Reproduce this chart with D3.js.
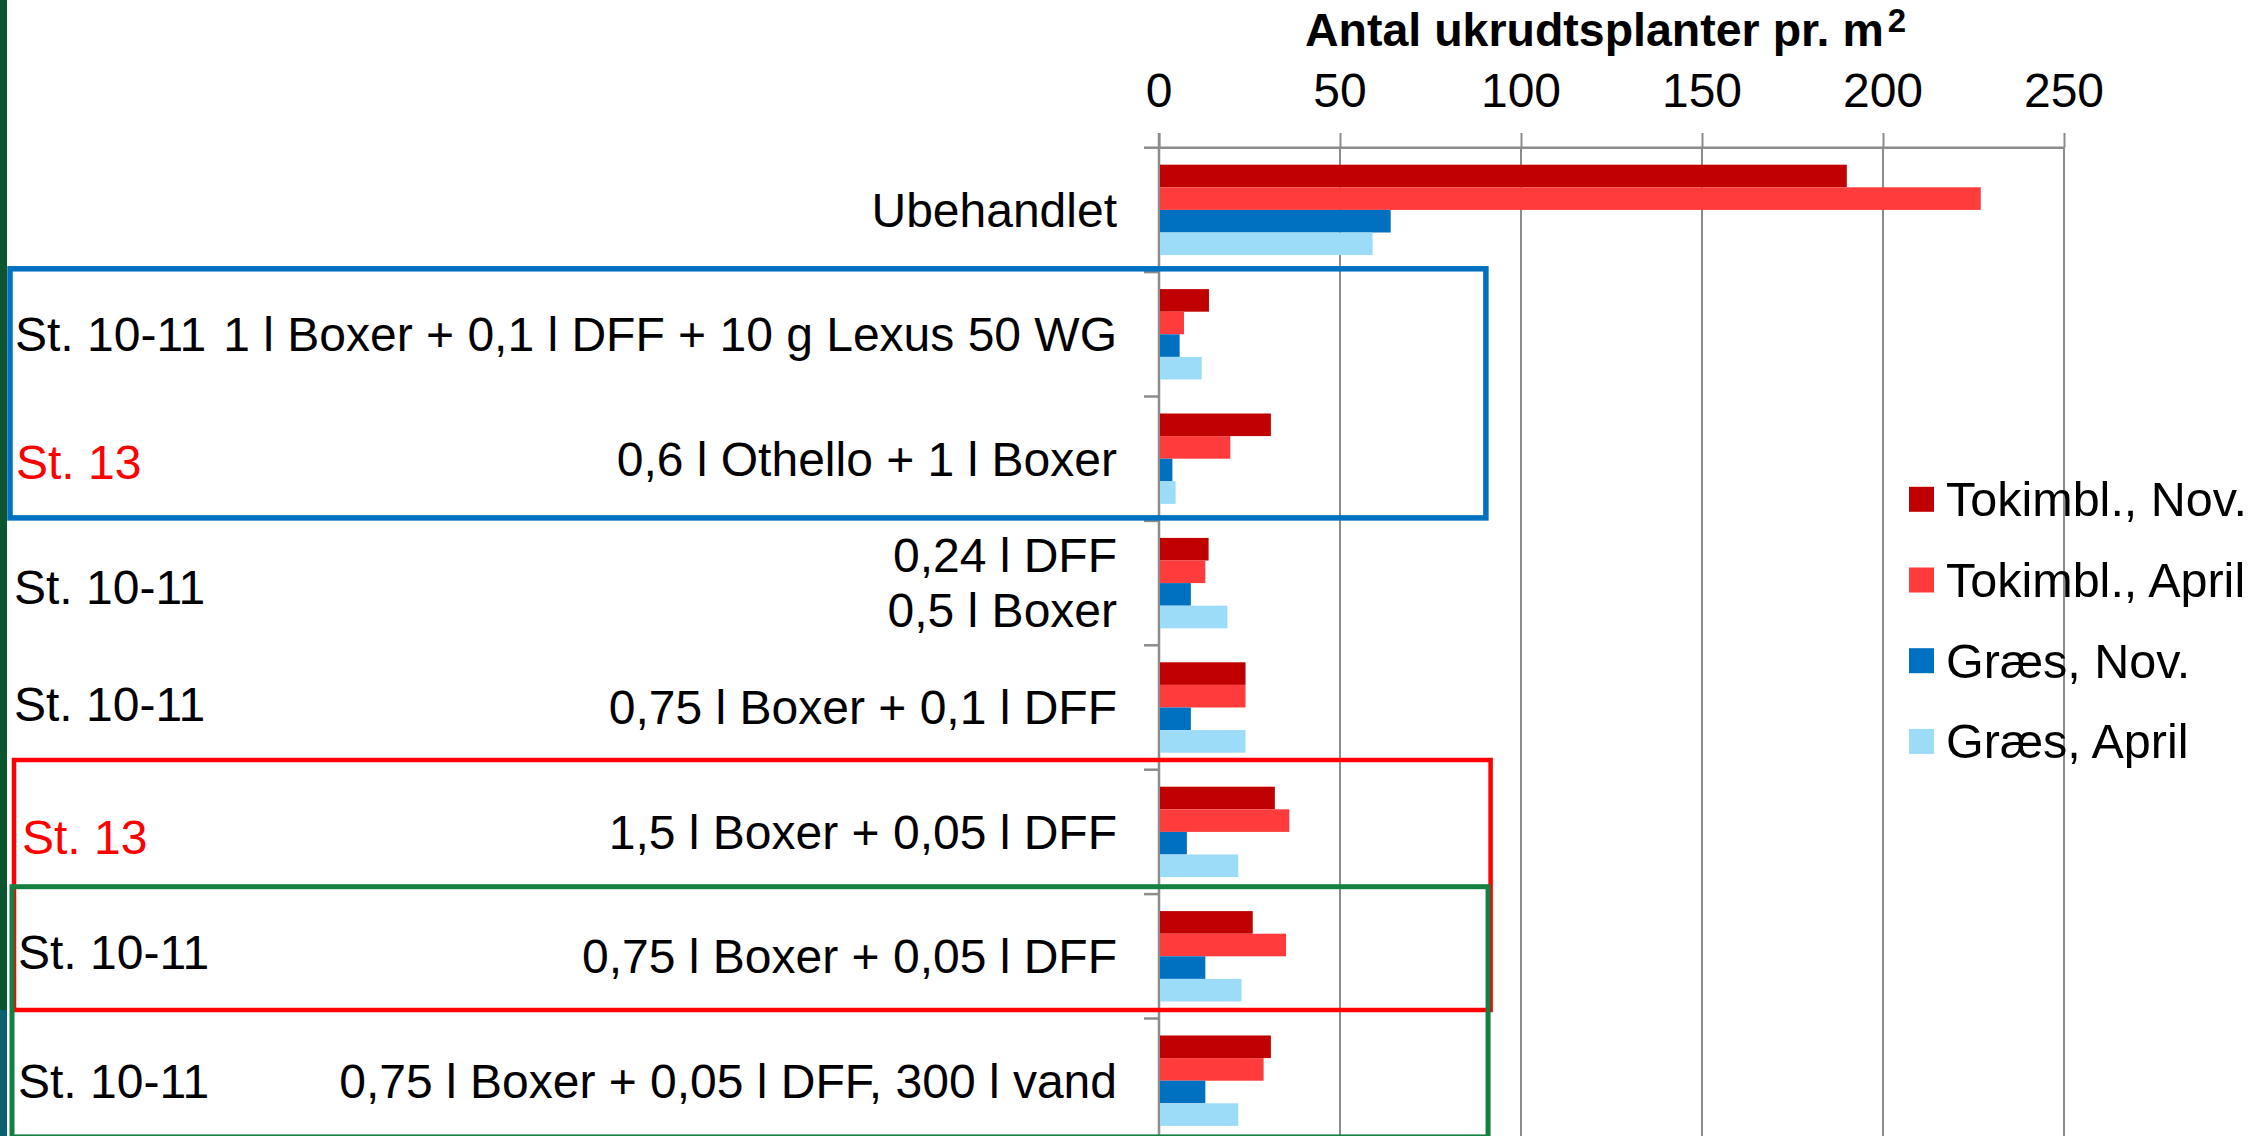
<!DOCTYPE html>
<html>
<head>
<meta charset="utf-8">
<script src="https://cdn.jsdelivr.net/npm/d3@7"></script>
<style>
  body { margin: 0; background: #fff; }
  svg text { font-family: "Liberation Sans", Arial, sans-serif; }
</style>
</head>
<body>
<div id="chart"></div>
<script>
/** chart data */
let categories = [
  'Ubehandlet',
  '1 l Boxer + 0,1 l DFF + 10 g Lexus 50 WG',
  '0,6 l Othello + 1 l Boxer',
  '0,24 l DFF|0,5 l Boxer',
  '0,75 l Boxer + 0,1 l DFF',
  '1,5 l Boxer + 0,05 l DFF',
  '0,75 l Boxer + 0,05 l DFF',
  '0,75 l Boxer + 0,05 l DFF, 300 l vand'
];
let stages = ['', 'St. 10-11', 'St. 13', 'St. 10-11', 'St. 10-11', 'St. 13', 'St. 10-11', 'St. 10-11'];
let seriesNames = ['Tokimbl., Nov.', 'Tokimbl., April', 'Græs, Nov.', 'Græs, April'];
let tokimblNov = [190, 13.8, 30.9, 13.7, 23.9, 32, 25.9, 30.9];
let tokimblApril = [227, 6.9, 19.7, 12.8, 23.9, 36, 35.1, 28.9];
let graesNov = [64, 5.7, 3.7, 8.8, 8.8, 7.7, 12.8, 12.8];
let graesApril = [59, 11.8, 4.6, 18.9, 23.9, 21.9, 22.8, 21.9];
let xTicks = [0, 50, 100, 150, 200, 250];
let axisTitle = 'Antal ukrudtsplanter pr. m';

/** styles */
let seriesColors = ['#C00000', '#FF3B3B', '#0070C0', '#9DDCF8'];
let stageColor = { 'St. 10-11': '#000', 'St. 13': '#FF0000' };
// little nudges of the stage labels, as they sit in the original
let stageNudge = [[0, 0], [15, 0], [16, 3], [14, 4], [14, -3], [22, 5], [18, -4], [18, 0]];

let width = 2266;
let height = 1136;
let fontSize = 48;

let svg = d3.select('#chart')
  .append('svg')
  .attr('width', width)
  .attr('height', height)
  .style('display', 'block');

svg.append('rect').attr('width', width).attr('height', height).attr('fill', '#fff');

/** scales */
let x = d3.scaleLinear().domain([0, 250]).range([1159, 2064]);
let y = d3.scaleBand().domain(d3.range(categories.length)).range([147.7, 147.7 + 8 * 124.4]).padding(0);
let ySub = d3.scaleBand().domain(d3.range(seriesNames.length)).range([0, y.bandwidth()])
  .paddingInner(0).paddingOuter(0.752);

let series = [tokimblNov, tokimblApril, graesNov, graesApril];

/** gridlines + value axis on top */
let xAxis = d3.axisTop(x).tickValues(xTicks).tickSize(14.7).tickFormat('');
let gx = svg.append('g').attr('transform', `translate(0,${y.range()[0]})`).call(xAxis);
gx.select('.domain').attr('stroke', '#8c8c8c').attr('stroke-width', 2.5)
  .attr('d', `M${x(0)},0H${x(250)}`);
gx.selectAll('.tick line').attr('stroke', '#8c8c8c').attr('stroke-width', 2);

svg.append('g').selectAll('line.grid')
  .data(xTicks.slice(1))
  .enter().append('line')
  .attr('class', 'grid')
  .attr('x1', d => x(d)).attr('x2', d => x(d))
  .attr('y1', y.range()[0]).attr('y2', height)
  .attr('stroke', '#8c8c8c').attr('stroke-width', 2);

svg.append('g').selectAll('text.xlab')
  .data(xTicks)
  .enter().append('text')
  .attr('class', 'xlab')
  .attr('x', d => x(d))
  .attr('y', 107)
  .attr('text-anchor', 'middle')
  .attr('font-size', fontSize)
  .text(d => d);

let title = svg.append('text')
  .attr('x', 1305).attr('y', 46)
  .attr('font-size', 46.5)
  .attr('font-weight', 'bold')
  .text(axisTitle);
title.append('tspan').attr('font-size', 33).attr('dx', 4).attr('dy', -14).text('2');

/** category axis */
svg.append('line')
  .attr('x1', x(0)).attr('x2', x(0))
  .attr('y1', 133).attr('y2', height)
  .attr('stroke', '#8c8c8c').attr('stroke-width', 2.5);

svg.append('g').selectAll('line.ytick')
  .data(d3.range(categories.length + 1))
  .enter().append('line')
  .attr('class', 'ytick')
  .attr('x1', x(0) - 15).attr('x2', x(0))
  .attr('y1', d => y.range()[0] + d * y.step())
  .attr('y2', d => y.range()[0] + d * y.step())
  .attr('stroke', '#8c8c8c').attr('stroke-width', 2.5);

/** bars */
let groups = svg.append('g').selectAll('g.cat')
  .data(categories)
  .enter().append('g')
  .attr('class', 'cat')
  .attr('transform', (d, i) => `translate(0,${y(i)})`);

groups.selectAll('rect')
  .data((d, i) => series.map((s, j) => ({ j: j, v: s[i] })))
  .enter().append('rect')
  .attr('x', x(0) + 1)
  .attr('y', d => ySub(d.j))
  .attr('width', d => x(d.v) - x(0) - 1)
  .attr('height', ySub.bandwidth())
  .attr('fill', d => seriesColors[d.j]);

/** category labels */
groups.each(function (d, i) {
  let g = d3.select(this);
  let cy = y.bandwidth() / 2;
  let lines = d.split('|');
  lines.forEach((line, k) => {
    g.append('text')
      .attr('x', 1117)
      .attr('y', cy + (k - (lines.length - 1) / 2) * 55)
      .attr('dy', '0.35em')
      .attr('text-anchor', 'end')
      .attr('font-size', fontSize)
      .text(line);
  });
  if (stages[i]) {
    g.append('text')
      .attr('x', stageNudge[i][0])
      .attr('y', cy + stageNudge[i][1])
      .attr('dy', '0.35em')
      .attr('font-size', fontSize)
      .attr('fill', stageColor[stages[i]])
      .text(stages[i]);
  }
});

/** hand drawn boxes round the treatments */
let boxes = [
  { from: 1, to: 3, left: 10, right: 90.3, top: -3.3, bottom: -3, color: '#0070C0', w: 5.5 },
  { from: 5, to: 7, left: 14, right: 91.6, top: -9.7, bottom: -8.5, color: '#FF0000', w: 4.5 },
  { from: 6, to: 8, left: 12, right: 90.9, top: -7.4, bottom: -6, color: '#138041', w: 5 }
];
svg.append('g').selectAll('rect.box')
  .data(boxes)
  .enter().append('rect')
  .attr('class', 'box')
  .attr('x', d => d.left)
  .attr('y', d => y.range()[0] + d.from * y.step() + d.top)
  .attr('width', d => x(d.right) - d.left)
  .attr('height', d => (d.to - d.from) * y.step() + d.bottom - d.top)
  .attr('fill', 'none')
  .attr('stroke', d => d.color)
  .attr('stroke-width', d => d.w);

/** legend */
let legend = svg.append('g').selectAll('g.leg')
  .data(seriesNames)
  .enter().append('g')
  .attr('class', 'leg')
  .attr('transform', (d, i) => `translate(1909,${499.3 + i * 80.7})`);
legend.append('rect')
  .attr('x', 0).attr('y', -12.5)
  .attr('width', 25).attr('height', 25)
  .attr('fill', (d, i) => seriesColors[i]);
legend.append('text')
  .attr('x', 37).attr('y', 0)
  .attr('dy', '0.35em')
  .attr('font-size', 48.5)
  .text(d => d);

/** slide edge at the far left */
svg.append('rect').attr('x', 0).attr('y', 0).attr('width', 7).attr('height', 1010).attr('fill', '#0B5530');
svg.append('rect').attr('x', 0).attr('y', 1010).attr('width', 7).attr('height', height - 1010).attr('fill', '#0A6070');
</script>
</body>
</html>
